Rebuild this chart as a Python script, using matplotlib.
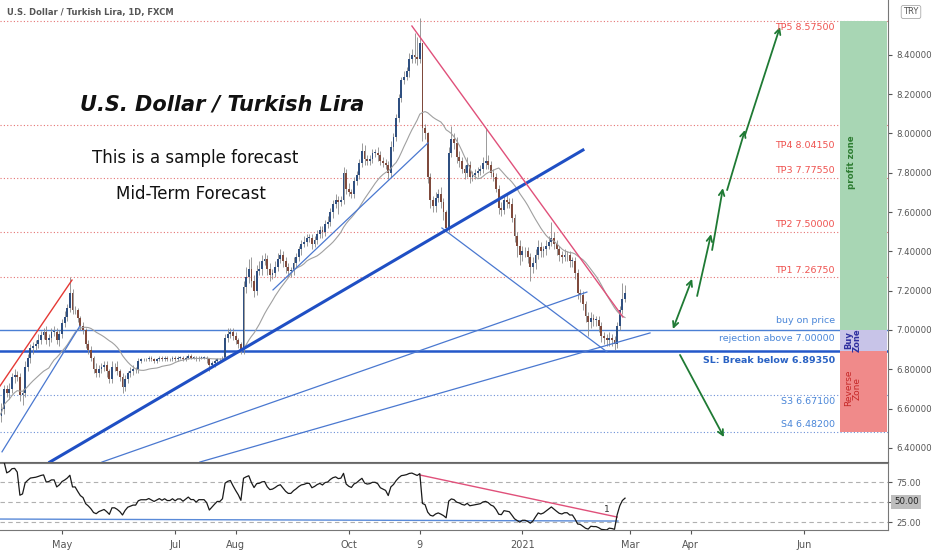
import numpy as np
import pandas as pd
import matplotlib
matplotlib.use("Agg")
import matplotlib.pyplot as plt
from matplotlib import transforms

# ---- data (USDTRY daily, FXCM) ----
first_day = "2020-03-30"
first_open = 6.52
closes = [
    6.56, 6.60, 6.70, 6.68, 6.70, 6.76, 6.77, 6.76, 6.67, 6.68,
    6.81, 6.86, 6.91, 6.92, 6.93, 6.95, 6.975, 6.99, 6.95, 6.96,
    6.99, 6.99, 6.95, 6.98, 7.036, 7.066, 7.11, 7.19, 7.10, 7.10,
    7.06, 7.02, 7.00, 6.93, 6.90, 6.86, 6.80, 6.78, 6.80, 6.81,
    6.82, 6.79, 6.75, 6.81, 6.81, 6.79, 6.76, 6.71, 6.75, 6.78,
    6.79, 6.80, 6.80, 6.84, 6.85, 6.85, 6.85, 6.86, 6.85, 6.84,
    6.85, 6.86, 6.85, 6.86, 6.85, 6.85, 6.86, 6.85, 6.86, 6.86,
    6.85, 6.86, 6.87, 6.86, 6.86, 6.85, 6.86, 6.86, 6.86, 6.85,
    6.82, 6.83, 6.84, 6.85, 6.85, 6.86, 6.96, 6.98, 6.99, 6.97,
    6.95, 6.93, 6.90, 7.22, 7.27, 7.31, 7.25, 7.20, 7.30, 7.31,
    7.35, 7.36, 7.31, 7.28, 7.29, 7.32, 7.36, 7.38, 7.35, 7.32,
    7.30, 7.30, 7.34, 7.37, 7.41, 7.44, 7.45, 7.47, 7.47, 7.44,
    7.46, 7.49, 7.51, 7.50, 7.54, 7.55, 7.60, 7.64, 7.66, 7.65,
    7.66, 7.80, 7.72, 7.70, 7.69, 7.76, 7.79, 7.85, 7.91, 7.87,
    7.86, 7.87, 7.90, 7.90, 7.89, 7.86, 7.85, 7.84, 7.80, 7.93,
    7.98, 8.08, 8.18, 8.27, 8.29, 8.32, 8.38, 8.40, 8.39, 8.38,
    8.46, 8.03, 8.00, 7.78, 7.66, 7.63, 7.67, 7.69, 7.65, 7.60,
    7.52, 7.90, 7.97, 7.95, 7.88, 7.86, 7.82, 7.80, 7.84, 7.78,
    7.79, 7.80, 7.81, 7.82, 7.85, 7.86, 7.84, 7.80, 7.78, 7.72,
    7.62, 7.61, 7.66, 7.65, 7.64, 7.57, 7.48, 7.43, 7.38, 7.40,
    7.40, 7.37, 7.32, 7.34, 7.38, 7.42, 7.40, 7.41, 7.43, 7.45,
    7.47, 7.44, 7.41, 7.38, 7.37, 7.38, 7.38, 7.35, 7.35, 7.29,
    7.19, 7.18, 7.13, 7.07, 7.04, 7.06, 7.05, 7.05, 7.02, 6.97,
    6.96, 6.95, 6.96, 6.95, 6.93, 7.02, 7.10, 7.16, 7.19,
]
# wick lengths above / below the body, in hundredths of a lira
wick_up = [
    2, 3, 2, 2, 3, 2, 3, 2, 2, 2, 3, 2, 2, 2, 2, 3, 2, 2, 3, 2,
    2, 3, 2, 2, 2, 3, 2, 8, 2, 2, 1, 1, 2, 1, 2, 2, 1, 3, 2, 2,
    2, 2, 1, 3, 2, 3, 1, 2, 2, 1, 2, 2, 1, 2, 1, 1, 1, 1, 1, 1,
    1, 1, 1, 1, 1, 1, 1, 1, 1, 1, 1, 1, 1, 1, 1, 1, 1, 1, 1, 1,
    1, 1, 1, 1, 1, 1, 2, 3, 2, 2, 2, 1, 1, 3, 5, 5, 6, 3, 3, 4,
    3, 3, 2, 3, 2, 3, 3, 3, 2, 2, 2, 2, 3, 2, 2, 2, 3, 2, 2, 2,
    2, 2, 2, 2, 2, 3, 2, 2, 3, 2, 2, 3, 2, 3, 2, 2, 2, 2, 4, 3,
    2, 2, 2, 2, 3, 2, 2, 2, 2, 3, 2, 2, 2, 2, 3, 2, 3, 3, 11, 10,
    13, 0, 2, 1, 2, 2, 3, 3, 4, 2, 1, 3, 7, 3, 3, 3, 2, 2, 4, 2,
    2, 2, 2, 2, 3, 17, 3, 2, 2, 2, 2, 3, 2, 3, 2, 3, 2, 2, 3, 3,
    2, 2, 2, 3, 3, 4, 3, 2, 3, 3, 8, 3, 2, 2, 2, 3, 2, 2, 2, 2,
    2, 2, 2, 2, 2, 3, 2, 2, 2, 2, 2, 2, 3, 2, 2, 2, 2, 8, 4,
]
wick_dn = [
    3, 3, 3, 2, 3, 2, 3, 2, 3, 5, 2, 2, 3, 3, 2, 2, 2, 2, 2, 3,
    2, 2, 2, 3, 2, 2, 2, 2, 2, 2, 2, 2, 2, 2, 2, 2, 2, 2, 2, 2,
    2, 3, 2, 2, 2, 2, 2, 3, 2, 2, 2, 2, 2, 2, 1, 1, 1, 1, 1, 1,
    1, 1, 1, 1, 1, 1, 1, 1, 1, 1, 1, 1, 1, 1, 1, 1, 1, 1, 1, 2,
    3, 1, 2, 1, 1, 1, 1, 2, 2, 2, 2, 2, 2, 2, 3, 3, 3, 3, 2, 2,
    3, 2, 3, 3, 2, 2, 2, 2, 3, 3, 3, 3, 2, 2, 2, 3, 2, 2, 2, 3,
    2, 2, 2, 3, 2, 2, 2, 3, 2, 6, 2, 2, 3, 2, 2, 2, 2, 2, 2, 3,
    2, 2, 2, 2, 3, 2, 2, 2, 3, 2, 2, 2, 2, 2, 2, 2, 3, 2, 3, 3,
    2, 7, 3, 3, 4, 3, 3, 2, 3, 4, 2, 2, 2, 3, 3, 3, 2, 3, 2, 3,
    2, 2, 2, 2, 2, 3, 2, 2, 2, 2, 3, 3, 2, 3, 2, 2, 3, 6, 5, 3,
    3, 3, 7, 3, 3, 2, 3, 3, 3, 2, 2, 3, 3, 3, 3, 2, 3, 3, 3, 3,
    3, 4, 3, 3, 7, 3, 3, 3, 3, 3, 3, 3, 3, 3, 3, 2, 2, 2, 2,
]

tp_names = ["TP1", "TP2", "TP3", "TP4", "TP5"]
tp_levels = [7.2675, 7.50, 7.7755, 8.0415, 8.575]
buy_level = 7.00
sl_level = 6.8935
s_names = ["S3", "S4"]
s_levels = [6.671, 6.482]

price_ticks = [6.4, 6.6, 6.8, 7.0, 7.2, 7.4, 7.6, 7.8, 8.0, 8.2, 8.4]
rsi_ticks = [25, 75]
rsi_now_label = 50

tick_dates = ["2020-05-01", "2020-07-01", "2020-08-03", "2020-10-01", "2020-11-09",
              "2021-01-01", "2021-03-01", "2021-04-01", "2021-06-01"]
tick_labels = ["May", "Jul", "Aug", "Oct", "9", "2021", "Mar", "Apr", "Jun"]

# drawings: ((bar, price), (bar, price))
blue_thin = [((1.2, 6.38), (30.8, 7.02)),
             ((104.2, 7.204), (163.1, 7.952)),
             ((168.4, 7.519), (231.2, 6.888)),
             ((39.2, 6.328), (223.5, 7.193)),
             ((76.4, 6.328), (247.5, 6.985))]
blue_thick = ((19.4, 6.328), (222.0, 7.916))
red_line = ((0.44, 6.715), (27.8, 7.254))
pink_line = ((157.0, 8.547), (237.2, 7.066))
up_arrows = [((256.2, 7.005), (263.5, 7.26)),
             ((265.4, 7.173), (270.7, 7.488)),
             ((271.1, 7.407), (275.2, 7.722)),
             ((276.8, 7.712), (283.6, 8.018)),
             ((283.6, 7.992), (296.9, 8.542))]
down_arrow = ((258.9, 6.873), (275.6, 6.455))
rsi_pink = ((160.1, 83.7), (235.0, 31.2))
rsi_blue = ((0.44, 28.7), (235.3, 26.2))

# ---- build series ----
n = len(closes)
dates = pd.bdate_range(first_day, periods=340)
c = np.array(closes)
o = np.r_[first_open, c[:-1]]
h = np.maximum(o, c) + np.array(wick_up) / 100
l = np.minimum(o, c) - np.array(wick_dn) / 100
xs = np.arange(n)
ma = pd.Series(c).rolling(20, min_periods=1).mean()
d = pd.Series(c).diff()
g = d.clip(lower=0).ewm(alpha=1 / 14).mean()
ls = (-d.clip(upper=0)).ewm(alpha=1 / 14).mean()
rsi = 100 - 100 / (1 + g / ls)

W, H = 932, 550
fig = plt.figure(figsize=(W / 100, H / 100), dpi=100)
ax = fig.add_axes([0, 1 - 462 / H, 888 / W, 462 / H])
axr = fig.add_axes([0, 1 - 530 / H, 888 / W, 67 / H], sharex=ax)

up_col, dn_col = "#2f4f80", "#7f4a3c"
ax.vlines(xs, l, h, color="#8a8a8a", lw=0.6, zorder=2)
body = np.where(np.abs(c - o) < 0.004, 0.004, c - o)
ax.bar(xs, body, bottom=o, width=0.7, color=np.where(c >= o, up_col, dn_col), zorder=3)
ax.plot(xs, ma, color="#a0a0a0", lw=0.8, zorder=3)

for p in tp_levels:
    ax.axhline(p, color="#e57373", lw=0.8, ls=(0, (1, 2)), zorder=1)
ax.axhline(buy_level, color="#4a7fd4", lw=1.0, zorder=1)
ax.axhline(sl_level, color="#2458c9", lw=1.8, zorder=1)
for p in s_levels:
    ax.axhline(p, color="#6b8fd6", lw=0.8, ls=(0, (1, 2)), zorder=1)

for a, b in blue_thin:
    ax.plot([a[0], b[0]], [a[1], b[1]], color="#4a78d0", lw=0.9, zorder=4)
ax.plot([blue_thick[0][0], blue_thick[1][0]], [blue_thick[0][1], blue_thick[1][1]],
        color="#1f4fc4", lw=2.2, zorder=4)
ax.plot([red_line[0][0], red_line[1][0]], [red_line[0][1], red_line[1][1]], color="#e53935", lw=1.0, zorder=4)
ax.plot([pink_line[0][0], pink_line[1][0]], [pink_line[0][1], pink_line[1][1]], color="#e0507a", lw=1.0, zorder=4)

green = "#1f7a34"
for k, (a, b) in enumerate(up_arrows):
    ax.annotate("", xy=b, xytext=a, zorder=5,
                arrowprops=dict(arrowstyle="<->" if k == 0 else "->", color=green, lw=1.3,
                                mutation_scale=10, shrinkA=0, shrinkB=0))
ax.annotate("", xy=down_arrow[1], xytext=down_arrow[0], zorder=5,
            arrowprops=dict(arrowstyle="->", color=green, lw=1.3, mutation_scale=10, shrinkA=0, shrinkB=0))

# zones on the right
zx0, zx1 = 319.7, 337.6
ax.fill_between([zx0, zx1], buy_level, tp_levels[-1], color="#a8d6b4", lw=0, zorder=1.5)
ax.fill_between([zx0, zx1], sl_level, buy_level, color="#c8c4e8", lw=0, zorder=1.5)
ax.fill_between([zx0, zx1], s_levels[-1], sl_level, color="#f08a8a", lw=0, zorder=1.5)

# right-side level labels
lx = 317.8
lab = dict(textcoords="offset pixels", ha="right", va="center", fontsize=6.8, zorder=6)
tp_off = [7.4, 7, 7.6, -20.5, -6.5]
for name, p, off in zip(tp_names, tp_levels, tp_off):
    ax.annotate(f"{name} {p:.5f}", (lx, p), xytext=(0, off), color="#ef5350", **lab)
ax.annotate("buy on price", (lx, buy_level), xytext=(0, 9), color="#4a86d8", **lab)
ax.annotate(f"rejection above {buy_level:.5f}", (lx, buy_level), xytext=(0, -9), color="#4a86d8", **lab)
ax.annotate(f"SL: Break below {sl_level:.5f}", (lx, sl_level), xytext=(0, -10), color="#2962c4",
            fontweight="bold", **lab)
for name, p, off in zip(s_names, s_levels, [-6.4, 6.8]):
    ax.annotate(f"{name} {p:.5f}", (lx, p), xytext=(0, off), color="#4a86d8", **lab)

ax.set_xlim(0.44, 337.95)
ax.set_ylim(6.3282, 8.6794)
ax.yaxis.tick_right()
ax.set_yticks(price_ticks)
ax.yaxis.set_major_formatter(matplotlib.ticker.FormatStrFormatter("%.5f"))
ax.tick_params(axis="y", labelsize=6.2, colors="#555", length=3, pad=3)
ax.tick_params(axis="x", bottom=False, labelbottom=False)
for s in ["top", "left"]:
    ax.spines[s].set_visible(False)
ax.spines["right"].set_color("#777")
ax.spines["bottom"].set_color("#666")

# RSI pane
axr.plot(xs, rsi, color="#1a1a1a", lw=0.9, zorder=3)
for lv in [75, 50, 25]:
    axr.axhline(lv, color="#b0b0b0", lw=0.8, ls=(0, (4, 3)), zorder=1)
axr.plot([rsi_pink[0][0], rsi_pink[1][0]], [rsi_pink[0][1], rsi_pink[1][1]], color="#e0507a", lw=1.0)
axr.plot([rsi_blue[0][0], rsi_blue[1][0]], [rsi_blue[0][1], rsi_blue[1][1]], color="#5a8ad8", lw=1.0)
axr.text(231.2, 41, "1", fontsize=6.5, color="#333", ha="center", va="center")
axr.set_ylim(15, 98.75)
axr.yaxis.tick_right()
axr.set_yticks(rsi_ticks)
axr.yaxis.set_major_formatter(matplotlib.ticker.FormatStrFormatter("%.2f"))
axr.tick_params(axis="y", labelsize=6.2, colors="#555", length=3, pad=3)
tr = transforms.blended_transform_factory(axr.transAxes, axr.transData)
axr.plot([1.0, 1.0 + 3 / 888], [rsi_now_label] * 2, transform=tr, color="#555", lw=0.8, clip_on=False)
axr.text(1.0 + 6 / 888, rsi_now_label, f"{rsi_now_label:.2f}", transform=tr, fontsize=6.2, color="#222",
         va="center", ha="left", bbox=dict(boxstyle="square,pad=0.3", fc="#bdbdbd", ec="none"), zorder=6)
axr.set_xticks([dates.searchsorted(pd.Timestamp(t)) for t in tick_dates])
axr.set_xticklabels(tick_labels)
axr.tick_params(axis="x", labelsize=7, colors="#555", length=3, pad=4)
axr.spines["left"].set_visible(False)
for s in ["top", "bottom", "right"]:
    axr.spines[s].set_color("#777")

# texts
fig.text(7 / W, 1 - 12 / H, "U.S. Dollar / Turkish Lira, 1D, FXCM", fontsize=6, fontweight="bold",
         color="#555", va="center")
fig.text(222 / W, 1 - 104 / H, "U.S. Dollar / Turkish Lira", fontsize=15, fontweight="bold",
         style="italic", color="#111", ha="center", va="center")
fig.text(195 / W, 1 - 158 / H, "This is a sample forecast", fontsize=12, color="#111", ha="center", va="center")
fig.text(191 / W, 1 - 194 / H, "Mid-Term Forecast", fontsize=12, color="#111", ha="center", va="center")
fig.text(852 / W, 1 - 162 / H, "profit zone", fontsize=6.2, fontweight="bold", color="#2e7d32",
         rotation=90, ha="center", va="center")
fig.text(853 / W, 1 - 340 / H, "Buy\nZone", fontsize=6, fontweight="bold", color="#2f2f9f",
         rotation=90, ha="center", va="center", linespacing=1.0)
fig.text(853 / W, 1 - 388 / H, "Reverse\nZone", fontsize=6.5, color="#c62828",
         rotation=90, ha="center", va="center", linespacing=1.0)
fig.text(911 / W, 1 - 12 / H, "TRY", fontsize=6, color="#555", ha="center", va="center",
         bbox=dict(boxstyle="round,pad=0.25", fc="white", ec="#aaa", lw=0.6))

fig.savefig("out.png", dpi=100, facecolor="white")
